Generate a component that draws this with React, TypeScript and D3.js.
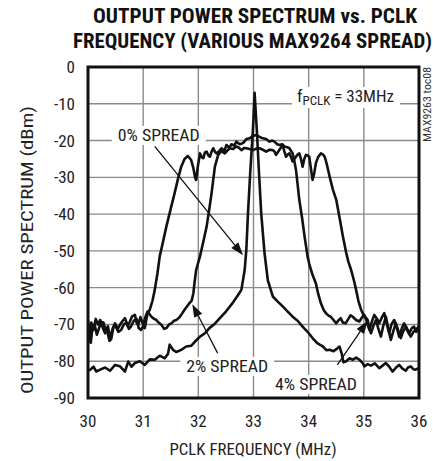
import React from "react";
import * as d3 from "d3";

const titleLines = ["OUTPUT POWER SPECTRUM vs. PCLK", "FREQUENCY (VARIOUS MAX9264 SPREAD)"];
const xTicks = [30, 31, 32, 33, 34, 35, 36];
const yTicks = [0, -10, -20, -30, -40, -50, -60, -70, -80, -90];
const xTitle = "PCLK FREQUENCY (MHz)";
const yTitle = "OUTPUT POWER SPECTRUM (dBm)";

// [frequency MHz, power dBm]
const spread0: [number, number][] = [[30.0,-82.5],[30.04,-82.3],[30.1,-81.5],[30.15,-82.8],[30.22,-82.3],[30.31,-81.7],[30.4,-82.6],[30.49,-81.0],[30.58,-81.4],[30.67,-82.8],[30.73,-80.1],[30.79,-81.5],[30.85,-80.5],[30.94,-80.0],[31.03,-81.0],[31.12,-79.5],[31.21,-79.6],[31.3,-78.5],[31.39,-79.2],[31.45,-78.0],[31.48,-75.5],[31.54,-76.9],[31.6,-77.5],[31.69,-76.9],[31.78,-76.0],[31.87,-75.8],[31.95,-74.5],[32.03,-73.3],[32.12,-72.4],[32.2,-71.0],[32.3,-69.8],[32.39,-68.3],[32.5,-66.5],[32.62,-64.2],[32.72,-62.0],[32.78,-60.6],[32.84,-55.2],[32.87,-49.7],[32.9,-39.8],[32.94,-28.9],[32.99,-17.1],[33.02,-7.0],[33.06,-17.1],[33.1,-28.9],[33.14,-39.8],[33.2,-50.6],[33.26,-58.0],[33.35,-62.4],[33.44,-63.8],[33.53,-65.1],[33.62,-66.5],[33.71,-67.9],[33.8,-69.0],[33.89,-70.6],[33.98,-72.0],[34.07,-73.7],[34.15,-75.0],[34.2,-75.5],[34.26,-76.0],[34.32,-77.0],[34.38,-76.9],[34.45,-77.3],[34.52,-76.5],[34.56,-76.0],[34.6,-78.0],[34.63,-80.3],[34.68,-80.0],[34.74,-79.2],[34.8,-79.6],[34.86,-79.0],[34.92,-79.6],[34.98,-80.5],[35.01,-81.4],[35.07,-80.8],[35.13,-81.2],[35.2,-80.6],[35.28,-81.9],[35.34,-81.2],[35.4,-80.5],[35.46,-81.5],[35.52,-82.8],[35.58,-81.8],[35.64,-81.0],[35.7,-82.0],[35.76,-82.6],[35.8,-81.7],[35.85,-81.4],[35.9,-82.2],[35.94,-82.3],[36.0,-81.8]];

const spread2: [number, number][] = [[30.0,-70.5],[30.03,-74.5],[30.06,-69.5],[30.1,-71.5],[30.14,-68.5],[30.18,-70.0],[30.22,-68.8],[30.27,-71.0],[30.31,-72.4],[30.36,-70.5],[30.4,-73.7],[30.45,-71.0],[30.49,-69.7],[30.54,-71.2],[30.58,-70.1],[30.63,-69.0],[30.67,-68.3],[30.72,-70.5],[30.76,-69.2],[30.8,-67.8],[30.85,-67.4],[30.88,-69.5],[30.91,-70.1],[30.95,-68.0],[31.0,-70.1],[31.04,-68.0],[31.08,-66.5],[31.15,-67.9],[31.2,-68.5],[31.24,-68.8],[31.28,-69.5],[31.33,-70.1],[31.38,-71.2],[31.42,-71.0],[31.47,-70.0],[31.51,-69.7],[31.56,-69.0],[31.6,-68.8],[31.65,-68.2],[31.69,-67.4],[31.75,-66.0],[31.8,-65.0],[31.84,-64.2],[31.88,-63.5],[31.91,-61.5],[31.93,-58.8],[31.96,-55.2],[32.03,-51.5],[32.09,-47.5],[32.15,-43.4],[32.2,-38.5],[32.24,-34.3],[32.3,-27.1],[32.36,-23.9],[32.42,-22.8],[32.46,-23.3],[32.51,-21.2],[32.56,-22.0],[32.6,-21.0],[32.65,-21.4],[32.69,-20.3],[32.75,-21.0],[32.81,-20.7],[32.87,-19.6],[32.93,-19.4],[32.98,-18.8],[33.05,-18.5],[33.11,-19.0],[33.17,-19.4],[33.23,-19.6],[33.29,-20.3],[33.34,-20.0],[33.38,-20.3],[33.43,-21.0],[33.47,-21.2],[33.52,-21.0],[33.56,-21.6],[33.61,-21.8],[33.65,-22.1],[33.71,-23.5],[33.74,-25.5],[33.77,-28.0],[33.8,-32.0],[33.83,-36.1],[33.88,-41.0],[33.93,-46.5],[33.98,-51.5],[34.01,-53.5],[34.07,-56.5],[34.13,-58.8],[34.17,-61.5],[34.22,-64.2],[34.27,-66.0],[34.31,-66.9],[34.36,-67.6],[34.4,-67.9],[34.45,-68.8],[34.5,-69.7],[34.54,-68.9],[34.58,-68.3],[34.62,-69.5],[34.67,-69.7],[34.72,-68.5],[34.76,-67.5],[34.8,-67.9],[34.86,-68.8],[34.92,-69.2],[34.97,-68.0],[35.01,-67.4],[35.05,-69.0],[35.1,-71.5],[35.15,-69.0],[35.19,-67.4],[35.24,-68.5],[35.28,-69.7],[35.33,-68.0],[35.37,-66.9],[35.42,-70.0],[35.46,-72.4],[35.5,-70.0],[35.55,-68.8],[35.6,-71.0],[35.64,-73.3],[35.69,-71.0],[35.73,-69.7],[35.78,-71.0],[35.82,-72.4],[35.87,-71.0],[35.91,-70.6],[35.95,-72.0],[36.0,-70.5]];

const spread4: [number, number][] = [[30.0,-69.0],[30.03,-72.5],[30.05,-75.0],[30.08,-71.0],[30.12,-70.0],[30.16,-72.8],[30.2,-71.0],[30.24,-69.3],[30.28,-69.5],[30.32,-71.5],[30.35,-72.0],[30.39,-74.5],[30.42,-74.0],[30.46,-70.8],[30.5,-70.5],[30.55,-72.0],[30.6,-71.5],[30.65,-70.0],[30.7,-69.5],[30.74,-71.2],[30.78,-70.5],[30.83,-69.0],[30.88,-68.5],[30.92,-71.0],[30.96,-71.5],[31.0,-70.5],[31.03,-71.0],[31.06,-68.5],[31.08,-67.0],[31.12,-66.0],[31.17,-63.5],[31.21,-60.6],[31.26,-56.0],[31.3,-51.5],[31.36,-47.5],[31.42,-43.4],[31.5,-38.5],[31.57,-34.3],[31.63,-30.5],[31.69,-27.1],[31.75,-25.0],[31.81,-24.2],[31.87,-25.3],[31.91,-27.5],[31.94,-30.0],[31.96,-30.7],[31.99,-27.1],[32.03,-23.5],[32.06,-24.5],[32.09,-24.8],[32.12,-23.2],[32.15,-23.0],[32.18,-24.0],[32.21,-24.4],[32.24,-23.0],[32.27,-22.1],[32.3,-23.0],[32.33,-23.5],[32.38,-22.8],[32.42,-22.1],[32.45,-22.5],[32.48,-23.5],[32.52,-22.8],[32.57,-22.1],[32.63,-22.3],[32.69,-21.6],[32.74,-22.0],[32.78,-22.6],[32.83,-22.0],[32.87,-22.1],[32.93,-22.3],[32.99,-22.6],[33.05,-22.2],[33.11,-22.1],[33.17,-22.5],[33.23,-23.0],[33.29,-22.5],[33.35,-22.6],[33.38,-23.0],[33.41,-23.9],[33.47,-22.5],[33.53,-21.2],[33.56,-23.0],[33.59,-24.4],[33.62,-23.8],[33.65,-23.5],[33.68,-24.5],[33.71,-25.7],[33.74,-25.0],[33.77,-24.4],[33.8,-23.8],[33.83,-23.5],[33.86,-25.0],[33.89,-27.1],[33.92,-25.0],[33.95,-23.9],[33.98,-24.0],[34.01,-24.4],[34.04,-27.5],[34.07,-30.7],[34.1,-29.0],[34.13,-26.2],[34.17,-24.5],[34.22,-23.5],[34.26,-23.8],[34.29,-24.4],[34.33,-26.5],[34.38,-29.8],[34.44,-33.4],[34.5,-36.1],[34.56,-41.0],[34.62,-46.0],[34.68,-50.5],[34.72,-53.0],[34.77,-55.2],[34.82,-58.0],[34.86,-60.6],[34.9,-63.5],[34.95,-66.0],[35.01,-67.9],[35.04,-68.2],[35.07,-68.8],[35.1,-71.0],[35.13,-72.4],[35.17,-70.5],[35.22,-68.8],[35.26,-71.0],[35.31,-73.3],[35.35,-70.5],[35.4,-67.9],[35.44,-71.0],[35.49,-74.2],[35.53,-72.0],[35.58,-69.7],[35.62,-71.5],[35.67,-73.7],[35.71,-72.0],[35.76,-70.6],[35.8,-72.0],[35.85,-73.3],[35.9,-72.0],[35.94,-71.5],[36.0,-70.5]];

const series = [spread0, spread2, spread4];

// annotation labels: text, label anchor (data), arrow start, arrow tip (data)
const annLabels = ["0% SPREAD", "2% SPREAD", "4% SPREAD"];
const annLabelPos: [number, number][] = [[30.54, -20.1], [31.78, -82.9], [33.39, -87.8]];
const annArrowFrom: [number, number][] = [[31.21, -21.6], [32.35, -77.8], [34.52, -81.0]];
const annArrowTo: [number, number][] = [[32.81, -51.2], [31.89, -64.5], [35.07, -69.0]];
const freqNoteValue = "33MHz";
const freqNotePos: [number, number] = [33.79, -9.5];

const FONT = "'Liberation Sans Narrow', 'Roboto Condensed', Roboto, 'Liberation Sans', Arial, sans-serif";

export default function App() {
  const W = 433, H = 461;
  const left = 88, right = 419, top = 67, bottom = 398;
  const x = d3.scaleLinear().domain([30, 36]).range([left, right]);
  const y = d3.scaleLinear().domain([0, -90]).range([top, bottom]);
  const line = d3.line<[number, number]>().x(d => x(d[0])).y(d => y(d[1]));
  const grid = "#8a8a8a";

  const arrowHead = (from: [number, number], to: [number, number]) => {
    const x1 = x(from[0]), y1 = y(from[1]), x2 = x(to[0]), y2 = y(to[1]);
    const a = Math.atan2(y2 - y1, x2 - x1);
    const L = 13, Wd = 4.5;
    const bx = x2 - L * Math.cos(a), by = y2 - L * Math.sin(a);
    const px = -Math.sin(a) * Wd, py = Math.cos(a) * Wd;
    return { x1, y1, bx, by, pts: `${x2},${y2} ${bx + px},${by + py} ${bx - px},${by - py}` };
  };

  const boxes = annLabelPos.map(p => ({ x: x(p[0]) - 6, y: y(p[1]) - 15, w: 94, h: 19 }));

  return (
    <svg width={W} height={H} style={{ position: "absolute", left: 0, top: 0, background: "#fff" }} fontFamily={FONT}>
      <rect x={0} y={0} width={W} height={H} fill="#fff" />
      {/* title */}
      <text x={255} y={23} textAnchor="middle" fontSize={21} fontWeight="bold" textLength={324} lengthAdjust="spacingAndGlyphs" fill="#111">{titleLines[0]}</text>
      <text x={252.5} y={48} textAnchor="middle" fontSize={21} fontWeight="bold" textLength={359} lengthAdjust="spacingAndGlyphs" fill="#111">{titleLines[1]}</text>

      {/* grid */}
      {xTicks.slice(1, -1).map(t => (
        <line key={"gx" + t} x1={x(t)} x2={x(t)} y1={top} y2={bottom} stroke={grid} strokeWidth={1.4} />
      ))}
      {yTicks.slice(1, -1).map(t => (
        <line key={"gy" + t} x1={left} x2={right} y1={y(t)} y2={y(t)} stroke={grid} strokeWidth={1.4} />
      ))}

      {/* white boxes behind annotation text */}
      {boxes.map((b, i) => (
        <rect key={"bx" + i} x={b.x} y={b.y} width={b.w} height={b.h} fill="#fff" />
      ))}
      <rect x={x(freqNotePos[0]) - 5} y={y(freqNotePos[1]) - 15} width={108} height={21} fill="#fff" />

      {/* tick labels */}
      {xTicks.map(t => (
        <text key={"tx" + t} x={x(t)} y={427} textAnchor="middle" fontSize={17} fill="#222">{t}</text>
      ))}
      {yTicks.map(t => (
        <text key={"ty" + t} x={75} y={y(t) + 6} textAnchor="end" fontSize={17} fill="#222">{t}</text>
      ))}

      {/* axis titles */}
      <text x={253} y={455} textAnchor="middle" fontSize={17} textLength={167} lengthAdjust="spacingAndGlyphs" fill="#222">{xTitle}</text>
      <text transform={`translate(33,250) rotate(-90)`} textAnchor="middle" fontSize={17} textLength={288} lengthAdjust="spacingAndGlyphs" fill="#222">{yTitle}</text>

      {/* annotations text */}
      {annLabels.map((s, i) => (
        <text key={"al" + i} x={x(annLabelPos[i][0])} y={y(annLabelPos[i][1])} fontSize={17} textLength={82} lengthAdjust="spacingAndGlyphs" fill="#222">{s}</text>
      ))}
      <text x={x(freqNotePos[0])} y={y(freqNotePos[1])} fontSize={17} fill="#222">
        <tspan>f</tspan>
        <tspan fontSize={13} dy={3}>PCLK</tspan>
        <tspan dy={-3}>{" = " + freqNoteValue}</tspan>
      </text>
      <text transform={`translate(431,67) rotate(-90)`} textAnchor="end" fontSize={10} textLength={75} lengthAdjust="spacingAndGlyphs" fill="#333">MAX9263 toc08</text>

      {/* arrows */}
      {annArrowFrom.map((f, i) => {
        const h = arrowHead(f, annArrowTo[i]);
        return (
          <g key={"ar" + i}>
            <line x1={h.x1} y1={h.y1} x2={h.bx} y2={h.by} stroke="#111" strokeWidth={1.3} />
            <polygon points={h.pts} fill="#111" />
          </g>
        );
      })}

      {/* curves */}
      <defs>
        <clipPath id="plotclip"><rect x={left} y={top} width={right - left} height={bottom - top} /></clipPath>
      </defs>
      <g clipPath="url(#plotclip)">
        {series.map((s, i) => (
          <path key={"s" + i} d={line(s) || ""} fill="none" stroke="#111" strokeWidth={2.6} strokeLinejoin="round" strokeLinecap="round" />
        ))}
      </g>

      {/* frame */}
      <rect x={left} y={top} width={right - left} height={bottom - top} fill="none" stroke="#111" strokeWidth={3} />
    </svg>
  );
}
